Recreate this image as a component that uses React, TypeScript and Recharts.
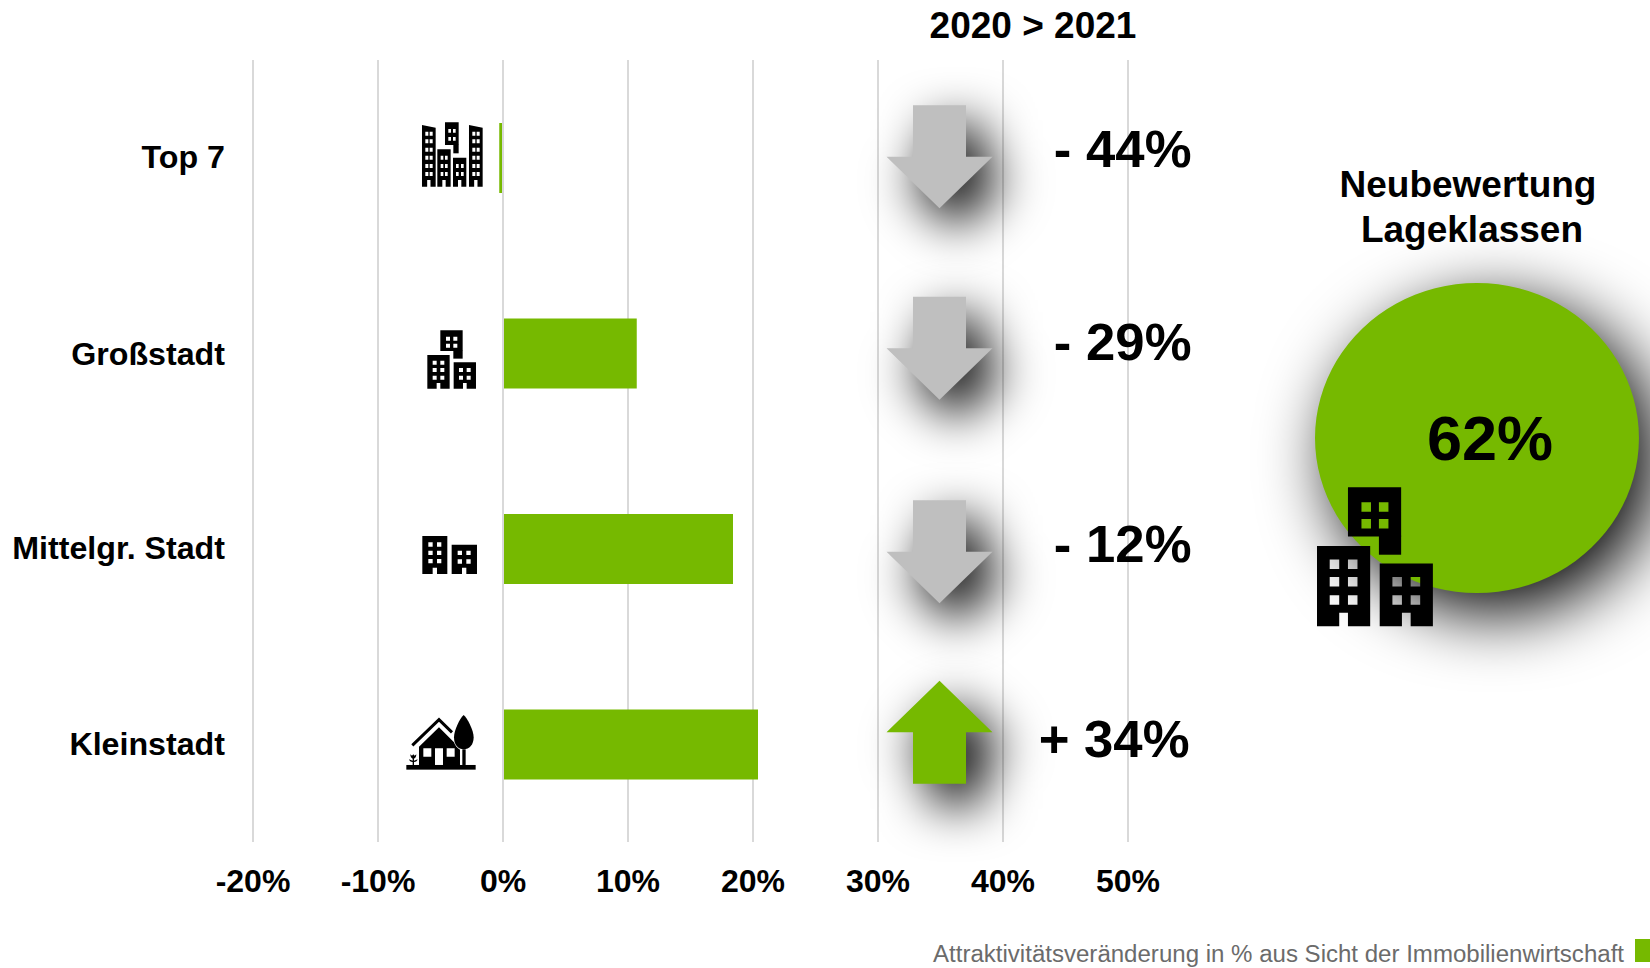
import {
  BarChart,
  Bar,
  XAxis,
  YAxis,
  CartesianGrid,
  ReferenceDot,
  ReferenceLine,
  PieChart,
  Pie,
} from 'recharts'

const categories = ['Top 7', 'Großstadt', 'Mittelgr. Stadt', 'Kleinstadt']
const attractiveness = [-0.3, 10.7, 18.4, 20.4]
const changeLabels = ['- 44%', '- 29%', '- 12%', '+ 34%']
const changeDirections = ['down', 'down', 'down', 'up']
const xTicks = [-20, -10, 0, 10, 20, 30, 40, 50]
const arrowAt = 35
const revaluation = [{ name: 'Neubewertung Lageklassen', value: 62 }]

const data = categories.map((name, i) => ({ name, value: attractiveness[i] }))

const GREEN = '#76b900'
const GRAY = '#bfbfbf'
const FONT = '"Liberation Sans", Arial, sans-serif'
const SHADOW = 'drop-shadow(17px 20px 34px #000)'
const ARROW_SHADOW = 'drop-shadow(17px 20px 25px #000)'

// hand placement of the arrows and their labels, relative to the row centre
const arrowShift = [-1, -5, 3, -12]
const labelShift = [9.5, 7, 13, 13]
const labelRight = [251, 251, 251, 249]
const rowLabelShift = [-1.5, 0.5, -1.5, -0.5]

function RowLabel({ x, y, payload, index }: any) {
  return (
    <text
      x={x}
      y={y + rowLabelShift[index]}
      dy="0.355em"
      textAnchor="end"
      fontFamily={FONT}
      fontSize={32.2}
      fontWeight={700}
      fill="#000"
    >
      {payload.value}
    </text>
  )
}

function ChangeArrow({ cx, cy, index }: { cx?: number; cy?: number; index: number }) {
  const x = cx ?? 0
  const y = (cy ?? 0) + arrowShift[index]
  const up = changeDirections[index] === 'up'
  const s = up ? -1 : 1
  const pts = [
    [-27.5, -51.5],
    [25.5, -51.5],
    [25.5, 0],
    [52, 0],
    [-1, 51.5],
    [-54, 0],
    [-27.5, 0],
  ]
    .map(([px, py]) => `${x + px},${y + s * py}`)
    .join(' ')
  return (
    <g>
      <polygon points={pts} fill={up ? GREEN : GRAY} style={{ filter: ARROW_SHADOW }} />
      <text
        x={x + labelRight[index]}
        y={(cy ?? 0) + labelShift[index]}
        textAnchor="end"
        fontFamily={FONT}
        fontWeight={700}
        fontSize={52.7}
        fill="#000"
      >
        {changeLabels[index]}
      </text>
    </g>
  )
}

const box = (x: number, y: number, w: number, h: number) => `M${x} ${y}h${w}v${h}h${-w}z`

// a building with cut-out windows and door, coordinates in 3x pixels
function tower(
  x: number,
  y: number,
  w: number,
  bottom: number,
  cols: number[],
  rows: number[],
  winW: number,
  winH: number,
  door?: [number, number, number],
) {
  let d = box(x, y, w, bottom - y)
  rows.forEach((r) => cols.forEach((c) => (d += box(c, r, winW, winH))))
  if (door) d += box(door[0], door[1], door[2], bottom - door[1])
  return d
}

function Shape({ d }: { d: string }) {
  return <path d={d} fill="#000" fillRule="evenodd" />
}

function Top7Icon() {
  const rows = [125, 148, 173, 197, 222, 246]
  const slant = (x0: number, x1: number, yl: number, yr: number, cols: number[]) => {
    let d = `M${x0} ${yl}L${x1} ${yr}V290H${x0}z`
    rows.forEach((r) => cols.forEach((c) => (d += box(c, r, 9, 12))))
    d += box((x0 + x1) / 2 - 5, 270, 10, 20)
    return d
  }
  return (
    <g transform="translate(380,90) scale(0.3333)">
      <Shape d={slant(126, 167, 105, 113, [136, 149])} />
      <Shape d={tower(172, 178, 40, 290, [182, 195], [197, 222, 246], 8, 12, [187, 270, 10])} />
      <Shape d={tower(219, 203, 40, 290, [228, 243], [222, 246], 8, 12, [234, 270, 10])} />
      <Shape d={slant(267, 308, 105, 113, [277, 290])} />
      <Shape d={tower(195, 97, 41, 165, [205, 219], [117, 141], 8, 11)} />
      <Shape d={box(220, 164, 16, 26)} />
    </g>
  )
}

function CityIcon({ transform }: { transform: string }) {
  // three block motif, shared by the Großstadt row and the large badge
  return (
    <g transform={transform}>
      <Shape d={tower(181, 721, 67, 783, [198, 220], [740, 761], 12, 12)} />
      <Shape d={box(220, 782, 28, 24)} />
      <Shape d={tower(142, 795, 67, 896, [158, 181], [812, 834, 857], 12, 12, [170, 879, 11])} />
      <Shape d={tower(221, 817, 67, 896, [237, 260], [834, 857], 12, 12, [249, 879, 11])} />
    </g>
  )
}

function SmallCityIcon() {
  return (
    <g transform="translate(380,500) scale(0.3333)">
      <Shape d={tower(127, 108, 75, 222, [145, 171], [127, 152, 177], 13, 13, [158, 203, 13])} />
      <Shape d={tower(215, 134, 76, 222, [233, 259], [152, 178], 13, 13, [246, 203, 13])} />
    </g>
  )
}

function TownIcon() {
  return (
    <g transform="translate(380,500) scale(0.3333)">
      <rect x={79} y={795} width={208} height={14} fill="#000" />
      <polyline points="97,736 177,659 216,697" fill="none" stroke="#000" strokeWidth={9} />
      <path
        fill="#000"
        fillRule="evenodd"
        d="M117 795V740L177 682L222 727C224 735 232 745 240 749V795ZM130 745h24v25h-24zM200 745h24v25h-24zM165 745h24v50h-24z"
      />
      <path
        fill="#000"
        d="M251 645C262 655 281 690 281 712C281 735 268 748 251 748C234 748 222 735 222 712C222 690 240 655 251 645Z"
      />
      <rect x={247} y={748} width={10} height={47} fill="#000" />
      <path
        fill="#000"
        d="M98 795V786C92 786 88 783 87 778L98 782V776C94 775 91 770 91 763L96 767L100 763L104 767L109 763C109 770 106 775 102 776V782L113 778C112 783 108 786 102 786V795Z"
      />
    </g>
  )
}

export default function App() {
  return (
    <div
      style={{
        position: 'absolute',
        left: 0,
        top: 0,
        width: 1650,
        height: 968,
        overflow: 'hidden',
        background: '#fff',
        fontFamily: FONT,
      }}
    >
      <BarChart
        width={1650}
        height={968}
        data={data}
        layout="vertical"
        margin={{ top: 60, right: 522, bottom: 0, left: 0 }}
      >
        <CartesianGrid horizontal={false} stroke="#d9d9d9" strokeWidth={2} />
        <XAxis
          type="number"
          domain={[-20, 50]}
          ticks={xTicks}
          height={126}
          tickFormatter={(v: number) => `${v}%`}
          axisLine={false}
          tickLine={false}
          tickSize={0}
          tickMargin={27}
          interval={0}
          tick={{ fontFamily: FONT, fontSize: 32, fontWeight: 700, fill: '#000' }}
        />
        <YAxis
          type="category"
          dataKey="name"
          width={253}
          axisLine={false}
          tickLine={false}
          tickSize={0}
          tickMargin={28}
          interval={0}
          tick={<RowLabel />}
        />
        <Bar dataKey="value" fill={GREEN} barSize={70} isAnimationActive={false} />
        <ReferenceLine x={0} stroke="#d9d9d9" strokeWidth={2} />
        {categories.map((name, i) => (
          <ReferenceDot
            key={name}
            x={arrowAt}
            y={name}
            shape={(p: any) => <ChangeArrow cx={p.cx} cy={p.cy} index={i} />}
          />
        ))}
      </BarChart>

      <div
        style={{
          position: 'absolute',
          left: 1315,
          top: 283,
          width: 310,
          height: 310,
          transform: 'scaleX(1.045)',
          transformOrigin: 'left top',
          filter: SHADOW,
        }}
      >
        <PieChart width={310} height={310} margin={{ top: 0, right: 0, bottom: 0, left: 0 }}>
          <Pie
            data={revaluation}
            dataKey="value"
            nameKey="name"
            cx={155}
            cy={155}
            outerRadius={155}
            fill={GREEN}
            stroke="none"
            isAnimationActive={false}
          />
        </PieChart>
      </div>

      <svg
        width={1650}
        height={968}
        style={{ position: 'absolute', left: 0, top: 0, pointerEvents: 'none' }}
      >
        <g fontFamily={FONT} fontWeight={700} fill="#000" textAnchor="middle">
          <text x={1033} y={38} fontSize={37}>2020 &gt; 2021</text>
          <text x={1468} y={197} fontSize={37}>Neubewertung</text>
          <text x={1472} y={242} fontSize={37}>Lageklassen</text>
          <text x={1490} y={460} fontSize={63}>62%</text>
        </g>
        <Top7Icon />
        <CityIcon transform="translate(380,90) scale(0.3333)" />
        <SmallCityIcon />
        <TownIcon />
        <CityIcon transform="translate(1204.3,-85) scale(0.7937)" />
        <text
          x={1624}
          y={962}
          textAnchor="end"
          fontFamily={FONT}
          fontSize={24.06}
          fill="#6b6b6b"
        >
          Attraktivitätsveränderung in % aus Sicht der Immobilienwirtschaft
        </text>
        <rect x={1635} y={939} width={15} height={23} fill={GREEN} />
      </svg>
    </div>
  )
}
